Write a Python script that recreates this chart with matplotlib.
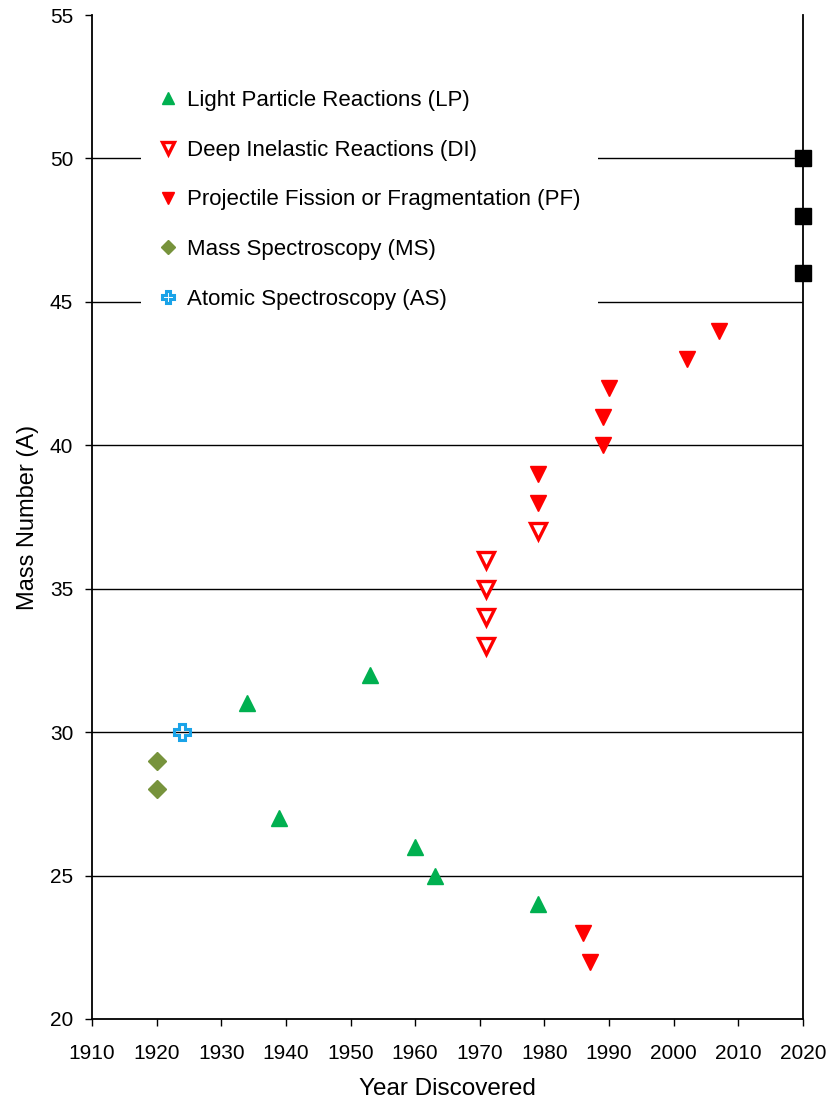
import matplotlib
matplotlib.use("Agg")
import matplotlib.pyplot as plt

plt.rcParams['font.family'] = ['Liberation Sans', 'DejaVu Sans']

# data
lp_year = [1934, 1939, 1953, 1960, 1963, 1979]
lp_mass = [31, 27, 32, 26, 25, 24]
di_year = [1971, 1971, 1971, 1971, 1979]
di_mass = [36, 35, 34, 33, 37]
pf_year = [1979, 1979, 1986, 1987, 1989, 1989, 1990, 2002, 2007]
pf_mass = [39, 38, 23, 22, 41, 40, 42, 43, 44]
ms_year = [1920, 1920]
ms_mass = [29, 28]
as_year = [1924]
as_mass = [30]
unk_year = [2020, 2020, 2020]
unk_mass = [46, 48, 50]

fig = plt.figure(figsize=(8.31, 11.06), dpi=100)
ax = fig.add_axes([0.1107, 0.0787, 0.8556, 0.9077])

ax.set_xlim(1910, 2020)
ax.set_ylim(20, 55)
ax.set_xticks(range(1910, 2021, 10))
ax.set_yticks(range(20, 56, 5))
for y in range(25, 55, 5):
    ax.axhline(y, color='black', lw=1, zorder=0)

ax.plot(lp_year, lp_mass, ls='none', marker='^', ms=12, color='#00b050',
        label='Light Particle Reactions (LP)', clip_on=False, zorder=3)
ax.plot(di_year, di_mass, ls='none', marker='v', ms=12, mfc='white', mec='red', mew=2.4,
        label='Deep Inelastic Reactions (DI)', clip_on=False, zorder=3)
ax.plot(pf_year, pf_mass, ls='none', marker='v', ms=12, color='red',
        label='Projectile Fission or Fragmentation (PF)', clip_on=False, zorder=3)
ax.plot(ms_year, ms_mass, ls='none', marker='D', ms=9.5, color='#77933c',
        label='Mass Spectroscopy (MS)', clip_on=False, zorder=3)
ax.plot(as_year, as_mass, ls='none', marker='P', ms=12, mfc='none', mec='#1aa3e8', mew=2.2,
        label='Atomic Spectroscopy (AS)', clip_on=False, zorder=3)
ax.plot(unk_year, unk_mass, ls='none', marker='s', ms=11, color='black',
        clip_on=False, zorder=4)

ax.spines['top'].set_visible(False)
for s in ['left', 'bottom', 'right']:
    ax.spines[s].set_linewidth(1.3)
ax.tick_params(axis='both', direction='out', length=5, width=1, labelsize=15, colors='black')
ax.tick_params(axis='x', pad=13)
ax.tick_params(axis='y', pad=8.5)
ax.set_xlabel('Year Discovered', fontsize=17.5, labelpad=11)
ax.set_ylabel('Mass Number (A)', fontsize=17, labelpad=8)

leg = ax.legend(loc='upper left', bbox_to_anchor=(0.069, 0.943), fontsize=16,
                frameon=True, framealpha=1, edgecolor='white', fancybox=False,
                handlelength=0.8, handletextpad=0.46, labelspacing=1.29,
                borderpad=0.8, borderaxespad=0, markerscale=0.72)
leg.get_frame().set_linewidth(0)

fig.savefig('out.png', dpi=100)
